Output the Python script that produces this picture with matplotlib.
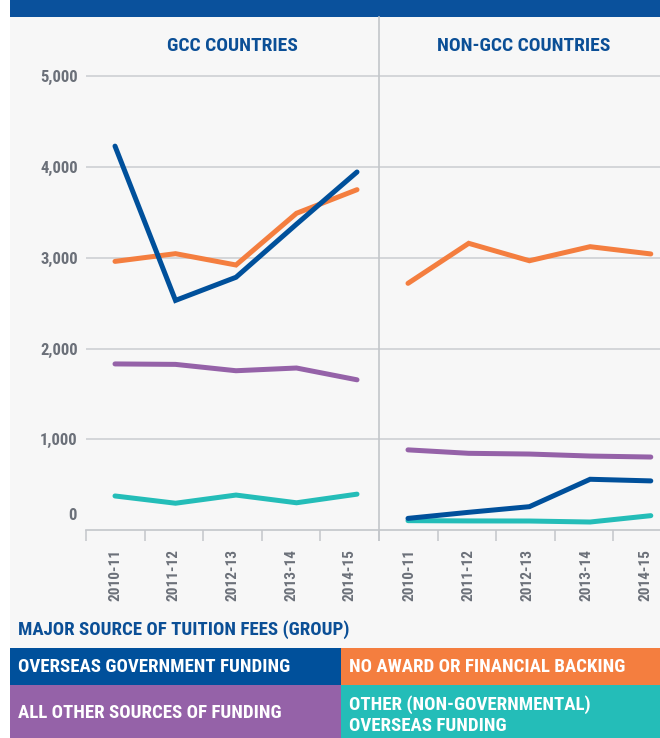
import matplotlib
matplotlib.use("Agg")
import matplotlib.pyplot as plt
from matplotlib import font_manager
from matplotlib.patches import Rectangle
from matplotlib.transforms import offset_copy

# ---------------- data ----------------
years = ["2010-11", "2011-12", "2012-13", "2013-14", "2014-15"]
panels = ["GCC COUNTRIES", "NON-GCC COUNTRIES"]
series_names = ["OVERSEAS GOVERNMENT FUNDING", "NO AWARD OR FINANCIAL BACKING",
                "ALL OTHER SOURCES OF FUNDING", "OTHER (NON-GOVERNMENTAL)\nOVERSEAS FUNDING"]
gcc_gov = [4230, 2530, 2785, 3370, 3945]
gcc_noaward = [2960, 3045, 2920, 3490, 3750]
gcc_other = [1830, 1825, 1755, 1785, 1655]
gcc_nongov = [375, 295, 385, 300, 395]
non_gov = [128, 195, 257, 559, 541]
non_noaward = [2718, 3159, 2967, 3122, 3042]
non_other = [883, 845, 837, 815, 804]
non_nongov = [103, 100, 99, 88, 158]
yticks = [1000, 2000, 3000, 4000, 5000]

colors = ["#00509b", "#f47e3f", "#9562a8", "#24bdb8"]
navy = "#0b4f96"
grey_txt = "#6b7079"
grid_c = "#cdd0d3"

# ---------------- font ----------------
avail = {f.name for f in font_manager.fontManager.ttflist}
fam = "DejaVu Sans"
stretch = "normal"
for cand in ["Roboto Condensed", "Liberation Sans Narrow", "Open Sans Condensed"]:
    if cand in avail:
        fam = cand
        break
else:
    stretch = "condensed"
plt.rcParams["font.family"] = [fam, "DejaVu Sans"]
plt.rcParams["font.stretch"] = stretch
plt.rcParams["font.weight"] = "bold"

W, H = 660, 738
fig = plt.figure(figsize=(W / 100, H / 100), dpi=100)
fig.patch.set_facecolor("white")


def fbox(x0, y0, x1, y1):
    return [x0 / W, 1 - y1 / H, (x1 - x0) / W, (y1 - y0) / H]


def frect(x0, y0, x1, y1, color, z=-10):
    fig.patches.append(Rectangle((x0 / W, 1 - y1 / H), (x1 - x0) / W, (y1 - y0) / H,
                                 transform=fig.transFigure, color=color, zorder=z, lw=0))


frect(10, 0, W, H, "#f7f7f7", z=-20)
frect(10, 0, W, 17, "#0a519c")

ytop_px, zero_px, per1000 = 17, 530, 90.75
ymax = (zero_px - ytop_px) / per1000 * 1000

# layout for each panel (pixels): axes edges, first point & spacing, first tick & spacing, first label & spacing
layouts = [
    dict(x0=86, x1=379, p0=115, dp=60.5, t0=86, dt=58.6, l0=115, dl=58.7),
    dict(x0=379, x1=682, p0=408, dp=60.7, t0=379, dt=58.6, l0=410, dl=58.8),
]
data = [
    [gcc_gov, gcc_noaward, gcc_other, gcc_nongov],
    [non_gov, non_noaward, non_other, non_nongov],
]
draw_order = [3, 2, 1, 0]

for pi, (lay, ser) in enumerate(zip(layouts, data)):
    ax = fig.add_axes(fbox(lay["x0"], ytop_px, lay["x1"], zero_px))
    ax.set_facecolor("none")
    to_d = lambda px, lay=lay: (px - lay["p0"]) / lay["dp"]
    ax.set_xlim(to_d(lay["x0"]), to_d(lay["x1"]))
    ax.set_ylim(0, ymax)
    xs = list(range(len(years)))
    for si in draw_order:
        ax.plot(xs, ser[si], color=colors[si], lw=3.6, solid_capstyle="round",
                solid_joinstyle="miter", zorder=3 + (1 if si == 0 else 0), clip_on=False)
    for s in ["top", "right"]:
        ax.spines[s].set_visible(False)
    ax.spines["bottom"].set_color("#c3c6ca")
    ax.spines["bottom"].set_linewidth(1.2)
    if pi == 0:
        ax.spines["left"].set_visible(False)
    else:
        ax.spines["left"].set_color("#c3c6ca")
        ax.spines["left"].set_linewidth(1.2)
    ax.set_yticks(yticks)
    ax.yaxis.grid(True, color=grid_c, lw=1.2)
    ax.set_axisbelow(True)
    ax.tick_params(axis="y", length=0, pad=6, labelsize=12, labelcolor=grey_txt)
    if pi == 0:
        ax.set_yticklabels([f"{v:,}" for v in yticks])
        tr = offset_copy(ax.get_yaxis_transform(), fig, x=-9, y=14, units="dots")
        ax.text(0, 0, "0", transform=tr, ha="right", va="center", fontsize=12, color=grey_txt)
    else:
        ax.set_yticklabels([])
    tick_pos = [to_d(lay["t0"] + lay["dt"] * k) for k in range(6)]
    ax.set_xticks(tick_pos, minor=True)
    ax.tick_params(axis="x", which="minor", length=8, width=1.1, color="#c3c6ca")
    lab_pos = [to_d(lay["l0"] + lay["dl"] * i) for i in range(len(years))]
    ax.set_xticks(lab_pos)
    ax.set_xticklabels(years, rotation=90)
    ax.tick_params(axis="x", which="major", length=0, pad=14, labelsize=11, labelcolor=grey_txt)

fig.text(232 / W, 1 - 46 / H, panels[0], ha="center", va="center", color=navy, fontsize=14)
fig.text(524 / W, 1 - 46 / H, panels[1], ha="center", va="center", color=navy, fontsize=14)

# legend
fig.text(18 / W, 1 - 630 / H, "MAJOR SOURCE OF TUITION FEES (GROUP)", ha="left", va="center",
         color=navy, fontsize=13.6)
boxes = [(10, 648, 341, 685), (341, 648, W, 685), (10, 685, 341, H), (341, 685, W, H)]
for (x0, y0, x1, y1), c, name in zip(boxes, colors, series_names):
    frect(x0, y0, x1, y1, c)
    off = 4 if "\n" in name else 1
    fig.text((x0 + 8) / W, 1 - ((y0 + y1) / 2 + off) / H, name, ha="left", va="center",
             color="white", fontsize=13.6, linespacing=1.22)

fig.savefig("out.png", dpi=100)
